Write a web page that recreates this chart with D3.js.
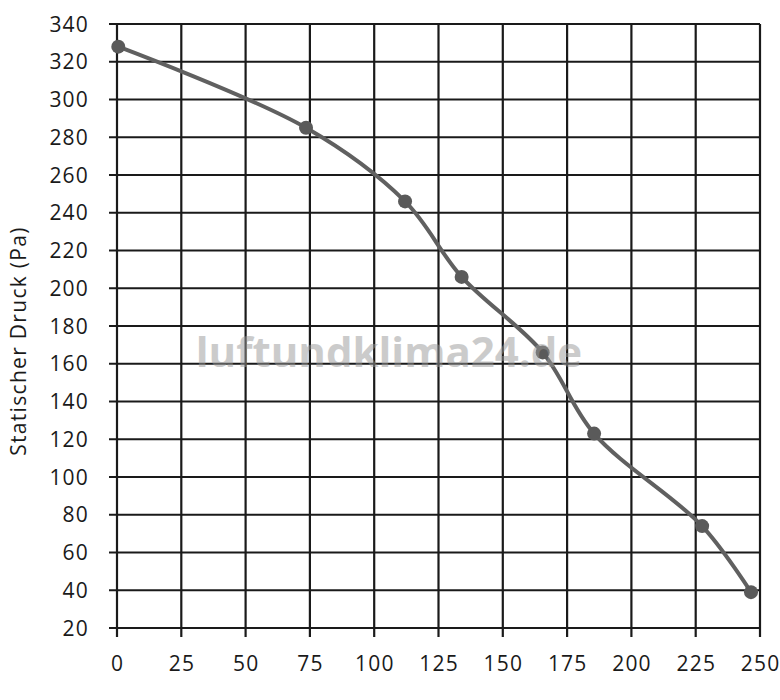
<!DOCTYPE html>
<html><head><meta charset="utf-8">
<script src="https://cdn.jsdelivr.net/npm/d3@7"></script>
<style>body{margin:0;background:#fff}</style></head>
<body><svg id="c" width="780" height="700"></svg>
<script>
const xTicks = [0,25,50,75,100,125,150,175,200,225,250];
const yTicks = [20,40,60,80,100,120,140,160,180,200,220,240,260,280,300,320,340];
const flow = [0.5, 73.5, 112, 134, 165.5, 185.5, 227.5, 246.5];
const pressure = [328, 285, 246, 206, 166, 123, 74, 39];
const yLabel = "Statischer Druck (Pa)";
const watermark = "luftundklima24.de";

const svg = d3.select("#c");
const L=117, R=760, T=24, B=628;
const x = d3.scaleLinear().domain([0,250]).range([L,R]);
const y = d3.scaleLinear().domain([20,340]).range([B,T]);
const font = "'Open Sans', sans-serif";

const g = svg.append("g");
g.selectAll(".h").data(yTicks).join("line")
  .attr("x1",L-8).attr("x2",R).attr("y1",d=>y(d)).attr("y2",d=>y(d))
  .attr("stroke","#1a1a1a").attr("stroke-width",2.2);
g.selectAll(".v").data(xTicks).join("line")
  .attr("y1",T).attr("y2",B+9).attr("x1",d=>x(d)).attr("x2",d=>x(d))
  .attr("stroke","#1a1a1a").attr("stroke-width",2.2);

g.selectAll(".yl").data(yTicks).join("text")
  .attr("x",89).attr("y",d=>y(d)).attr("dy","0.36em").attr("text-anchor","end")
  .attr("font-family",font).attr("font-size",21).attr("letter-spacing",1.2)
  .attr("fill","#1a1a1a").text(d=>d);
g.selectAll(".xl").data(xTicks).join("text")
  .attr("x",d=>x(d)+0.6).attr("y",671).attr("text-anchor","middle")
  .attr("font-family",font).attr("font-size",21).attr("letter-spacing",1.2)
  .attr("fill","#1a1a1a").text(d=>d);

svg.append("text").attr("transform","translate(26,341) rotate(-90)")
  .attr("text-anchor","middle").attr("font-family",font).attr("font-size",21)
  .attr("letter-spacing",1.3).attr("fill","#1a1a1a").text(yLabel);

const pts = flow.map((f,i)=>[f,pressure[i]]);
svg.append("path").datum(pts)
  .attr("d", d3.line().x(d=>x(d[0])).y(d=>y(d[1])).curve(d3.curveCatmullRom.alpha(0.5)))
  .attr("fill","none").attr("stroke","#606060").attr("stroke-width",4);
svg.selectAll(".pt").data(pts).join("circle")
  .attr("cx",d=>x(d[0])).attr("cy",d=>y(d[1])).attr("r",7).attr("fill","#5a5a5a");

svg.append("text").attr("x",389).attr("y",352).attr("dy","0.35em")
  .attr("text-anchor","middle").attr("font-family",font).attr("font-weight","bold")
  .attr("font-size",42).attr("fill","#999").attr("opacity",0.5).text(watermark);
</script></body></html>
